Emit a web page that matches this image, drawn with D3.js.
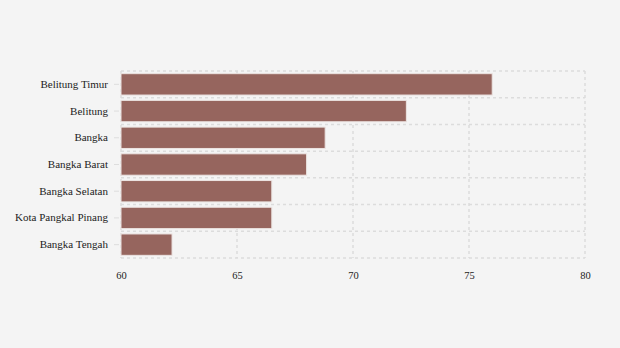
<!DOCTYPE html>
<html>
<head>
<meta charset="utf-8">
<script src="https://cdn.jsdelivr.net/npm/d3@7"></script>
<style>
  html, body { margin: 0; padding: 0; background: #f4f4f4; }
  svg { display: block; }
  text { font-family: "Liberation Serif", "Times New Roman", serif; fill: #222; }
</style>
</head>
<body>
<svg id="chart" width="620" height="348"></svg>
<script>
const regions = ["Belitung Timur", "Belitung", "Bangka", "Bangka Barat", "Bangka Selatan", "Kota Pangkal Pinang", "Bangka Tengah"];
const values = [76.0, 72.3, 68.8, 68.0, 66.5, 66.5, 62.2];
const xTicks = [60, 65, 70, 75, 80];

const svg = d3.select("#chart");
const margin = { top: 71, right: 35, bottom: 90, left: 121 };
const width = 620 - margin.left - margin.right;
const height = 348 - margin.top - margin.bottom;

const g = svg.append("g").attr("transform", `translate(${margin.left},${margin.top})`);

const x = d3.scaleLinear().domain([60, 80]).range([0, width]);
const y = d3.scaleBand().domain(regions).range([0, height]).paddingInner(0.2).paddingOuter(0.1);

// dashed grid: vertical lines at ticks, horizontal lines at band edges
const step = y.step();
const bandEdges = d3.range(regions.length + 1).map(i => i * height / regions.length);
g.append("g").selectAll("line").data(xTicks).join("line")
  .attr("x1", d => x(d)).attr("x2", d => x(d))
  .attr("y1", 0).attr("y2", height)
  .attr("stroke", "#dcdcdc").attr("stroke-width", 1.5).attr("stroke-dasharray", "3,3");
g.append("g").selectAll("line").data(bandEdges).join("line")
  .attr("x1", 0).attr("x2", width)
  .attr("y1", d => d).attr("y2", d => d)
  .attr("stroke", "#dcdcdc").attr("stroke-width", 1.5).attr("stroke-dasharray", "3,3");

// bars
g.append("g").selectAll("rect").data(regions).join("rect")
  .attr("x", x(60))
  .attr("y", d => y(d))
  .attr("width", (d, i) => x(values[i]) - x(60))
  .attr("height", y.bandwidth())
  .attr("fill", "#96655e")
  .attr("stroke", "#ece4e2")
  .attr("stroke-width", 1);

// y axis
const yAxis = g.append("g").attr("transform", "translate(-2,0)")
  .call(d3.axisLeft(y).tickSize(5).tickPadding(6));
yAxis.select(".domain").remove();
yAxis.selectAll(".tick line").attr("stroke", "#dddddd");
yAxis.selectAll(".tick text").style("font-size", "11px").style("font-family", "Liberation Serif, serif").attr("fill", "#222");

// x axis
const xAxis = g.append("g").attr("transform", `translate(0,${height})`)
  .call(d3.axisBottom(x).tickValues(xTicks).tickSize(0).tickPadding(14));
xAxis.select(".domain").remove();
xAxis.selectAll(".tick text").style("font-size", "10.5px").style("font-family", "Liberation Serif, serif").attr("fill", "#222");
</script>
</body>
</html>
